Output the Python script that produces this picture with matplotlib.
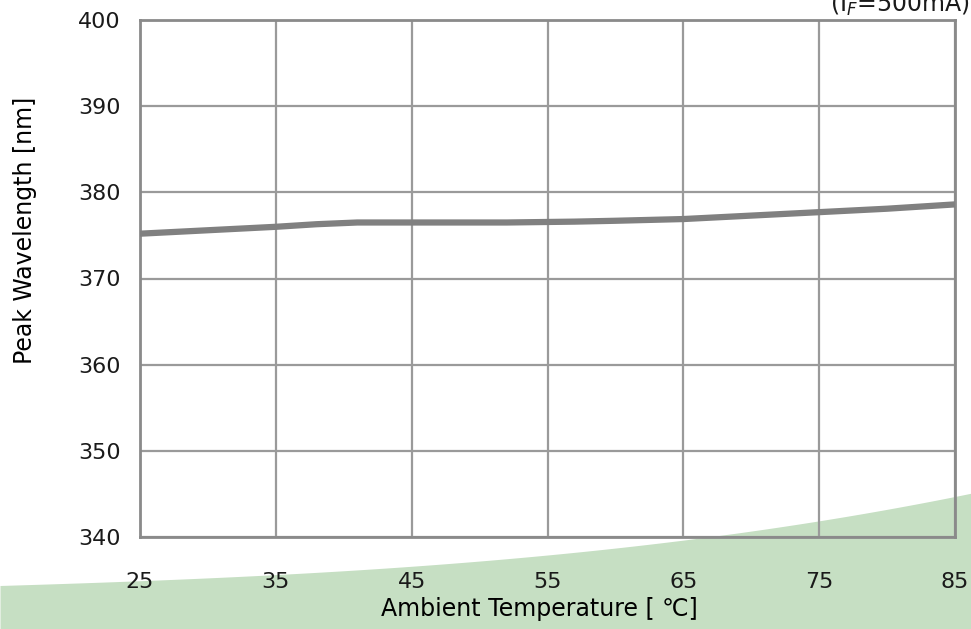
import matplotlib
matplotlib.use('Agg')
import matplotlib.pyplot as plt
import numpy as np

# temperature [C] vs peak wavelength [nm]
temps = [25, 30, 35, 38, 41, 45, 52, 57, 60, 65, 70, 75, 80, 85]
wavelength = [375.2, 375.6, 376.0, 376.3, 376.5, 376.5, 376.5, 376.6, 376.7, 376.9, 377.3, 377.7, 378.1, 378.6]

x_ticks = [25, 35, 45, 55, 65, 75, 85]
y_ticks = [340, 350, 360, 370, 380, 390, 400]

plt.rcParams['font.family'] = ['DejaVu Sans']

fig = plt.figure(figsize=(9.71, 6.29), dpi=100)
fig.patch.set_facecolor('white')

# decorative green swoosh along the bottom (figure pixel coords)
bg = fig.add_axes([0, 0, 1, 1], zorder=0)
bg.set_xlim(0, 971)
bg.set_ylim(629, 0)
bg.axis('off')
sx = np.array([0, 200, 400, 650, 800, 971])
sy = np.array([585, 580, 565, 545, 524, 493])
coef = np.polyfit(sx, sy, 3)
xs = np.linspace(0, 971, 300)
bg.fill_between(xs, np.polyval(coef, xs), 629, color='#c6dfc3', lw=0)

ax = fig.add_axes([140/971, 1-537/629, 815/971, 517/629], zorder=1)
ax.patch.set_alpha(0)
ax.set_xlim(25, 85)
ax.set_ylim(340, 400)
ax.set_xticks(x_ticks)
ax.set_yticks(y_ticks)
ax.grid(True, color='#9a9a9a', lw=1.6)
ax.set_axisbelow(True)
for sp in ax.spines.values():
    sp.set_color('#8a8a8a')
    sp.set_linewidth(2)
ax.tick_params(length=0, labelsize=16, colors='#1a1a1a')
ax.tick_params(axis='x', pad=25)
ax.tick_params(axis='y', pad=14)

ax.plot(temps, wavelength, color='#808080', lw=4.5, solid_capstyle='butt', zorder=3)

ax.set_xlabel('Ambient Temperature [ \u2103]', fontsize=17, color='black')
ax.set_ylabel('Peak Wavelength [nm]', fontsize=17, color='black')
ax.xaxis.set_label_coords(0.49, -0.139)
ax.xaxis.label.set_va('center')
ax.yaxis.set_label_coords(-0.141, 0.594)
ax.yaxis.label.set_va('center')

fig.text(0.999, 1-12/629, '(I$_F$=500mA)', ha='right', va='baseline', fontsize=17, color='#1a1a1a')

fig.savefig('out.png', dpi=100)
